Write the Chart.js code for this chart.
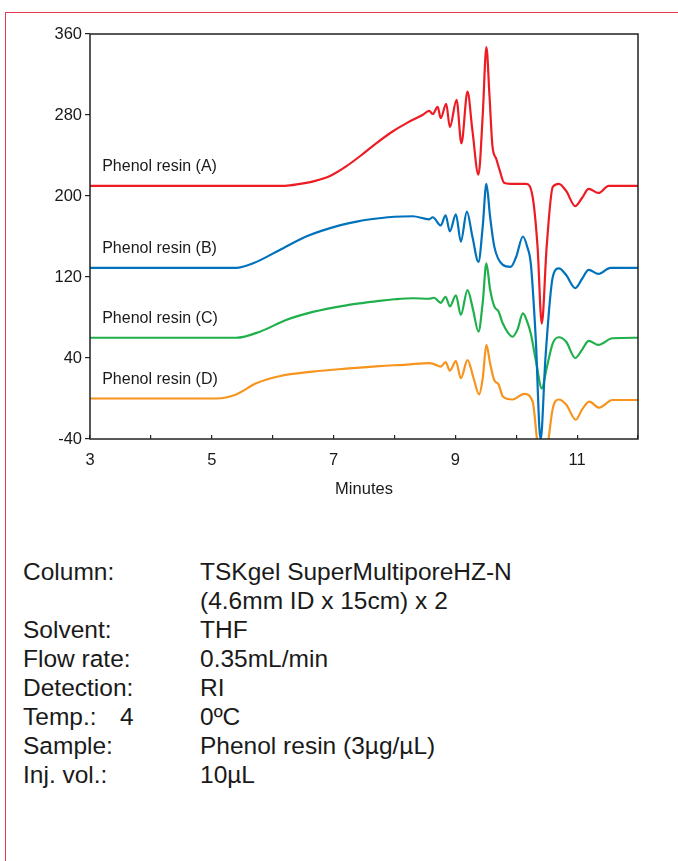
<!DOCTYPE html>
<html>
<head>
<meta charset="utf-8">
<script src="https://cdn.jsdelivr.net/npm/chart.js@4.4.1/dist/chart.umd.min.js"></script>
<style>
  html, body { margin: 0; padding: 0; background: #fff; }
  body { width: 678px; height: 861px; position: relative; overflow: hidden;
         font-family: "Liberation Sans", Arial, Helvetica, sans-serif; color: #1a1a1a; }
  #frame { position: absolute; left: 5px; top: 12px; width: 700px; height: 900px;
           border-top: 1.5px solid #e63a4f; border-left: 1.5px solid #e63a4f; }
  #chartBox { position: absolute; left: 0; top: 0; width: 678px; height: 520px; }
  .info { position: absolute; font-size: 24.5px; line-height: 29px; white-space: nowrap; }
</style>
</head>
<body>
<div id="frame"></div>
<div id="chartBox"><canvas id="c" width="678" height="520"></canvas></div>

<div class="info" style="left:23px; top:557px;">Column:</div>
<div class="info" style="left:200px; top:557px;">TSKgel SuperMultiporeHZ-N</div>
<div class="info" style="left:200px; top:586px;">(4.6mm ID x 15cm) x 2</div>
<div class="info" style="left:23px; top:615px;">Solvent:</div>
<div class="info" style="left:200px; top:615px;">THF</div>
<div class="info" style="left:23px; top:644px;">Flow rate:</div>
<div class="info" style="left:200px; top:644px;">0.35mL/min</div>
<div class="info" style="left:23px; top:673px;">Detection:</div>
<div class="info" style="left:200px; top:673px;">RI</div>
<div class="info" style="left:23px; top:702px;">Temp.:</div>
<div class="info" style="left:120px; top:702px;">4</div>
<div class="info" style="left:200px; top:702px;">0ºC</div>
<div class="info" style="left:23px; top:731px;">Sample:</div>
<div class="info" style="left:200px; top:731px;">Phenol resin (3µg/µL)</div>
<div class="info" style="left:23px; top:760px;">Inj. vol.:</div>
<div class="info" style="left:200px; top:760px;">10µL</div>

<script>
// ---------------- DATA ----------------
const seriesNames = ['Phenol resin (A)', 'Phenol resin (B)', 'Phenol resin (C)', 'Phenol resin (D)'];

const timeA = [3, 6.2, 6.45, 6.7, 6.95, 7.2, 7.45, 7.7, 7.95, 8.2, 8.46, 8.57, 8.63, 8.71, 8.76, 8.85, 8.91, 9.02, 9.10, 9.20, 9.28, 9.38, 9.45, 9.51, 9.56, 9.61, 9.67, 9.73, 9.80, 9.9, 10.16, 10.27, 10.35, 10.42, 10.50, 10.60, 10.70, 10.82, 10.97, 11.08, 11.19, 11.35, 11.52, 12];
const signalA = [210, 210, 212, 215, 220, 229, 240, 252, 263, 272, 280, 284, 281, 288, 277, 291, 268, 295, 252, 303, 265, 221, 280, 347, 300, 249, 237, 225, 213, 212, 212, 199, 150, 74, 150, 209, 212, 205, 190, 198, 207, 203, 210, 210];

const timeB = [3, 5.4, 5.68, 6.11, 6.55, 7.1, 7.4, 7.75, 8.0, 8.3, 8.57, 8.63, 8.76, 8.84, 8.91, 9.01, 9.09, 9.19, 9.28, 9.38, 9.45, 9.51, 9.57, 9.64, 9.78, 9.91, 10.0, 10.11, 10.18, 10.24, 10.32, 10.40, 10.48, 10.60, 10.70, 10.82, 10.97, 11.08, 11.19, 11.35, 11.55, 12];
const signalB = [129, 129, 133.5, 146.5, 160, 171, 175, 178, 179.5, 180, 177, 179, 171, 181, 165, 182, 155, 184.5, 160, 135, 170, 212, 180, 150, 132, 130, 140, 160, 150, 133, 60, -41, 40, 120, 128.5, 122, 109, 118, 127, 123, 129, 129];

const timeC = [3, 5.4, 5.79, 6.22, 6.66, 7.21, 7.5, 7.75, 8.0, 8.3, 8.57, 8.65, 8.76, 8.84, 8.91, 9.01, 9.09, 9.20, 9.29, 9.38, 9.45, 9.51, 9.57, 9.64, 9.71, 9.78, 9.94, 10.02, 10.11, 10.18, 10.24, 10.33, 10.42, 10.50, 10.60, 10.70, 10.82, 10.97, 11.08, 11.19, 11.35, 11.58, 12];
const signalC = [60, 60, 66, 77.5, 85.5, 92, 94.5, 96.5, 98, 99, 98.5, 99.5, 94.5, 100.5, 91, 102, 82.5, 107, 88, 66, 95, 133.5, 108, 91, 86, 74, 61, 68, 84, 76, 64, 35, 10, 30, 54.5, 60.5, 56, 40, 48, 57, 53, 59.5, 60];

const timeD = [3, 5.08, 5.4, 5.73, 6.11, 6.66, 7.2, 7.75, 8.2, 8.57, 8.65, 8.76, 8.84, 8.91, 9.01, 9.09, 9.20, 9.30, 9.39, 9.45, 9.51, 9.57, 9.64, 9.71, 9.78, 9.94, 10.13, 10.27, 10.35, 10.44, 10.52, 10.60, 10.70, 10.82, 10.98, 11.08, 11.20, 11.36, 11.58, 12];
const signalD = [0, 0, 4, 15, 22, 26.5, 29.5, 32, 33.5, 35, 34, 31.5, 36, 27.5, 37, 20, 38, 20, 4, 20, 53, 35, 18, 14, 2, -1, 4.5, -3, -45, -75, -45, -10, -1, -6, -21, -11, -3, -9, -1.5, -1.5];

const xTickLabels = [3, 5, 7, 9, 11];
const yTickValues = [-40, 40, 120, 200, 280, 360];

// annotation anchors (in data units: minutes, signal)
const labelAnchorX = 3.2;
const labelAnchorY = [224.7, 144, 75, 14];

const seriesColors = ['#ED1C24', '#0072BC', '#1FB04B', '#F7941D'];
// ------------------------------------------------------------------

const FONT = '"Liberation Sans", Arial, Helvetica, sans-serif';
const times = [timeA, timeB, timeC, timeD];
const signals = [signalA, signalB, signalC, signalD];

const datasets = seriesNames.map((name, i) => ({
  label: name,
  data: times[i].map((t, k) => ({ x: t, y: signals[i][k] })),
  borderColor: seriesColors[i],
  borderWidth: 2.2,
  pointRadius: 0,
  cubicInterpolationMode: 'monotone',
  fill: false
}));

const framePlugin = {
  id: 'frameAndLabels',
  afterDatasetsDraw(chart) {
    const { ctx, chartArea: a, scales } = chart;
    ctx.save();
    ctx.strokeStyle = '#222';
    ctx.lineWidth = 1.5;
    ctx.strokeRect(a.left, a.top, a.right - a.left, a.bottom - a.top);
    ctx.fillStyle = '#1a1a1a';
    ctx.font = '16px ' + FONT;
    ctx.textBaseline = 'alphabetic';
    ctx.textAlign = 'left';
    seriesNames.forEach((n, i) => {
      ctx.fillText(n, scales.x.getPixelForValue(labelAnchorX), scales.y.getPixelForValue(labelAnchorY[i]));
    });
    ctx.restore();
  }
};

new Chart(document.getElementById('c'), {
  type: 'line',
  data: { datasets },
  options: {
    responsive: false,
    animation: false,
    devicePixelRatio: 1,
    layout: { padding: { top: 34, right: 40, left: 0, bottom: 0 } },
    plugins: { legend: { display: false }, tooltip: { enabled: false } },
    scales: {
      x: {
        type: 'linear', min: 3, max: 12,
        afterFit(s) { s.height = 81; },
        border: { display: false },
        grid: { drawOnChartArea: false, drawTicks: true, tickLength: -4, color: '#222', lineWidth: 1.2 },
        ticks: {
          stepSize: 1, autoSkip: false, maxRotation: 0, padding: 16,
          color: '#1a1a1a', font: { family: FONT, size: 16.5 },
          callback: (v) => xTickLabels.includes(v) ? String(v) : ''
        },
        title: { display: true, text: 'Minutes', color: '#1a1a1a',
                 font: { family: FONT, size: 16.5 }, padding: { top: 0, bottom: 21 } }
      },
      y: {
        min: -40, max: 360,
        afterFit(s) { s.width = 90; },
        afterBuildTicks(s) { s.ticks = yTickValues.map(v => ({ value: v })); },
        border: { display: false },
        grid: { drawOnChartArea: false, drawTicks: true, tickLength: 5, color: '#222', lineWidth: 1.2 },
        ticks: { padding: 3, color: '#1a1a1a', font: { family: FONT, size: 16.5 } }
      }
    }
  },
  plugins: [framePlugin]
});
</script>
</body>
</html>
